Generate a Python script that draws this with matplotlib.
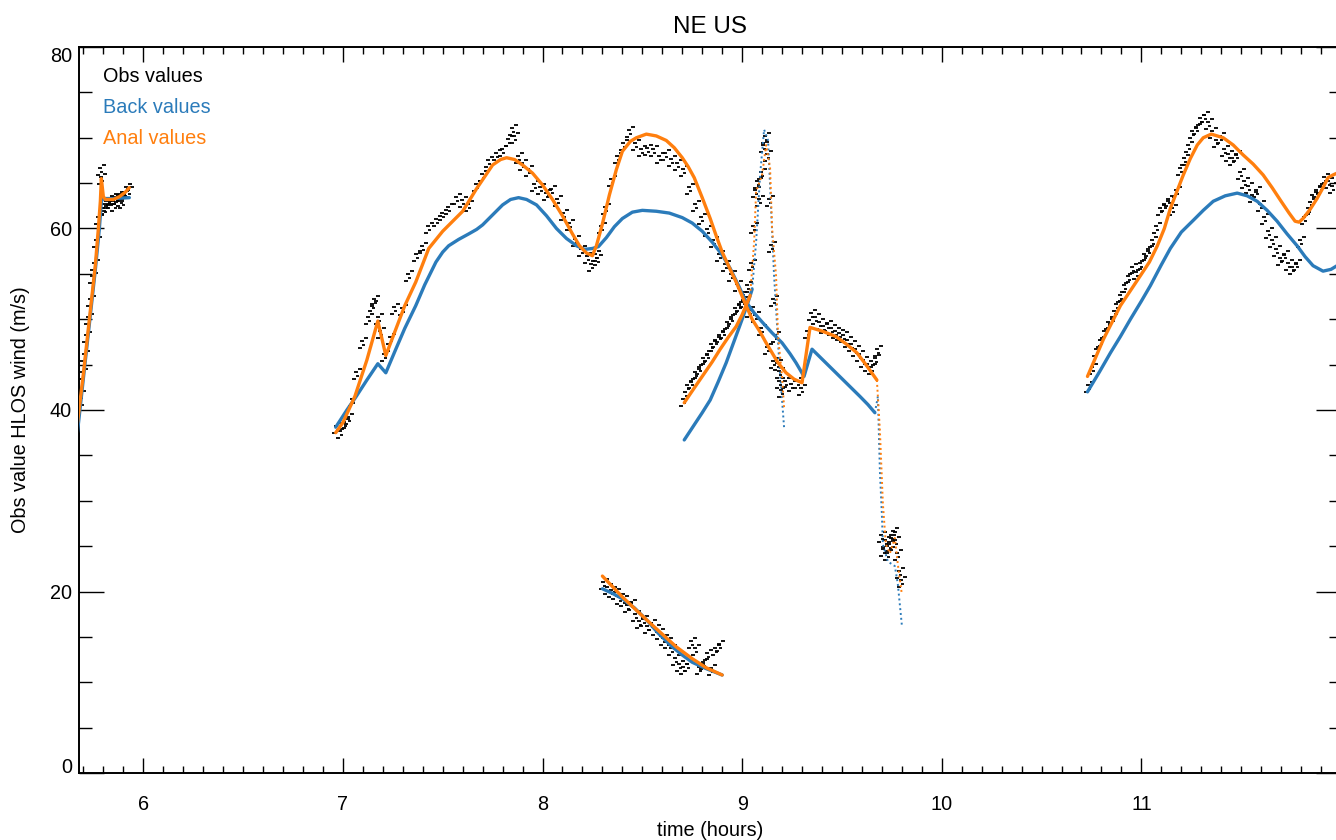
import matplotlib.pyplot as plt
from matplotlib.path import Path
import numpy as np

plt.rcParams['font.family'] = ['Liberation Sans', 'DejaVu Sans']

BLUE = '#2b7bba'
ORANGE = '#ff7f0e'

obs_t_a = [5.68, 5.69, 5.70, 5.71, 5.72, 5.73, 5.74, 5.75, 5.76, 5.77, 5.78,
           5.79, 5.795, 5.80, 5.81, 5.82, 5.83, 5.84, 5.85, 5.86, 5.87, 5.88,
           5.89, 5.90, 5.91, 5.92, 5.93]
obs_v_a = [40.0, 41.5, 44.0, 46.0, 48.0, 50.0, 52.0, 54.5, 56.0, 58.5, 61.0,
           66.5, 65.5, 62.5, 62.0, 62.5, 63.0, 62.8, 63.3, 62.5, 63.2, 63.5,
           63.0, 62.8, 63.8, 64.3, 64.0]

obs_t_b = [6.97, 6.99, 7.01, 7.03, 7.05, 7.07, 7.10, 7.13, 7.15, 7.16, 7.18,
           7.19, 7.21, 7.24, 7.26, 7.30, 7.33, 7.37, 7.40, 7.43, 7.47, 7.50,
           7.53, 7.57, 7.60, 7.63, 7.67, 7.70, 7.73, 7.77, 7.80, 7.83, 7.85,
           7.86, 7.88, 7.90, 7.93, 7.96, 7.99, 8.02, 8.05, 8.08, 8.11, 8.14,
           8.17, 8.20, 8.23, 8.25, 8.27, 8.28, 8.30, 8.32, 8.35, 8.38, 8.41,
           8.44, 8.47, 8.50, 8.53, 8.56, 8.59, 8.62, 8.65, 8.68, 8.71, 8.74,
           8.77, 8.80, 8.83, 8.86, 8.89, 8.92, 8.95, 8.98, 9.01, 9.04, 9.07,
           9.10, 9.13, 9.16, 9.19, 9.22, 9.25, 9.28, 9.30]
obs_v_b = [38.0, 37.5, 38.5, 39.0, 41.0, 44.0, 47.4, 50.0, 51.5, 52.0, 50.0,
           48.5, 46.0, 47.8, 51.1, 51.0, 54.8, 57.0, 57.8, 60.0, 60.8, 61.5,
           62.2, 63.3, 62.9, 62.5, 64.7, 65.8, 67.3, 68.1, 68.5, 69.6, 70.9,
           70.0, 67.8, 67.0, 66.3, 64.7, 64.4, 63.7, 64.1, 63.0, 61.5, 60.4,
           58.6, 57.5, 56.7, 55.9, 57.0, 56.5, 60.0, 62.2, 65.2, 67.8, 69.2,
           70.6, 69.2, 68.5, 68.7, 68.5, 67.8, 68.1, 67.4, 67.0, 66.3, 64.4,
           62.5, 61.1, 59.7, 58.5, 57.0, 55.9, 54.8, 53.7, 51.9, 50.8, 50.3,
           48.8, 46.7, 45.2, 44.1, 43.0, 42.6, 43.0, 42.2]

obs_t_c = [8.71, 8.73, 8.75, 8.77, 8.79, 8.81, 8.83, 8.85, 8.87, 8.89, 8.91,
           8.93, 8.95, 8.97, 8.99, 9.01, 9.03, 9.05, 9.06, 9.07, 9.08, 9.09,
           9.10, 9.11, 9.12, 9.13, 9.14, 9.15, 9.16, 9.17, 9.18, 9.19, 9.20]
obs_v_c = [41.0, 42.5, 43.0, 44.0, 44.5, 45.5, 46.0, 47.0, 47.5, 48.0, 48.5,
           49.5, 50.0, 51.0, 51.5, 52.5, 53.5, 56.0, 60.0, 64.0, 65.0, 63.0,
           66.0, 69.0, 70.0, 68.0, 63.0, 58.0, 52.0, 48.0, 45.0, 43.0, 42.0]

obs_t_d = [8.31, 8.33, 8.35, 8.37, 8.39, 8.41, 8.43, 8.45, 8.47, 8.49, 8.51,
           8.53, 8.55, 8.57, 8.59, 8.61, 8.63, 8.65, 8.67, 8.69, 8.71, 8.73,
           8.75, 8.77, 8.79, 8.81, 8.83, 8.85, 8.87, 8.89]
obs_v_d = [20.8, 20.3, 20.0, 19.7, 19.2, 19.0, 18.3, 18.5, 17.3, 16.5, 16.8,
           16.0, 16.3, 15.8, 15.3, 14.7, 14.3, 13.5, 12.5, 11.8, 11.5, 11.8,
           14.3, 13.5, 11.5, 12.0, 13.0, 11.3, 13.5, 14.0]

obs_t_f = [9.33, 9.35, 9.37, 9.39, 9.41, 9.43, 9.45, 9.47, 9.49, 9.51, 9.53,
           9.55, 9.57, 9.59, 9.61, 9.63, 9.65, 9.67, 9.68, 9.70, 9.71, 9.72,
           9.73, 9.74, 9.75, 9.76, 9.77, 9.78, 9.79, 9.80]
obs_v_f = [48.5, 50.5, 50.0, 49.5, 49.0, 49.3, 48.8, 48.5, 48.3, 48.0, 47.5,
           47.0, 46.5, 46.0, 45.3, 44.8, 44.5, 45.5, 46.5, 26.0, 24.5, 25.5,
           24.0, 25.0, 26.0, 26.5, 25.5, 24.0, 22.0, 21.0]

obs_t_e = [10.74, 10.76, 10.78, 10.80, 10.82, 10.84, 10.86, 10.88, 10.90,
           10.92, 10.94, 10.96, 10.98, 11.00, 11.02, 11.04, 11.06, 11.08,
           11.10, 11.12, 11.14, 11.16, 11.18, 11.20, 11.22, 11.24, 11.26,
           11.28, 11.30, 11.32, 11.34, 11.36, 11.38, 11.40, 11.42, 11.44,
           11.46, 11.48, 11.50, 11.52, 11.54, 11.56, 11.58, 11.60, 11.62,
           11.64, 11.66, 11.68, 11.70, 11.72, 11.74, 11.76, 11.78, 11.80,
           11.82, 11.84, 11.86, 11.88, 11.90, 11.92, 11.94, 11.96]
obs_v_e = [42.5, 44.5, 46.5, 47.5, 48.5, 49.5, 50.0, 51.5, 52.5, 53.5, 54.5,
           55.5, 55.0, 56.0, 57.0, 57.5, 58.5, 60.0, 62.0, 62.5, 63.0, 62.0,
           64.0, 66.5, 67.5, 69.0, 70.5, 71.0, 72.0, 72.3, 71.5, 70.5, 69.5,
           70.0, 68.5, 68.0, 67.5, 68.0, 66.0, 65.0, 64.5, 63.5, 64.0, 62.5,
           61.0, 59.5, 58.5, 57.5, 56.5, 57.0, 56.0, 55.5, 56.0, 58.5, 61.0,
           62.0, 63.5, 64.0, 64.5, 65.5, 65.0, 64.5]

# ---- background (Back) values ----
back_t_a = [5.67, 5.70, 5.73, 5.76, 5.78, 5.79, 5.80, 5.85, 5.93]
back_v_a = [37.5, 43.5, 49.5, 55.5, 60.0, 63.0, 63.3, 63.3, 63.4]

back_t_b = [6.964, 7.02, 7.064, 7.12, 7.175, 7.215, 7.265, 7.31, 7.365, 7.41,
            7.466, 7.50, 7.53, 7.58, 7.63, 7.67, 7.70, 7.75, 7.80, 7.84, 7.88,
            7.92, 7.97, 8.02, 8.07, 8.12, 8.17, 8.21, 8.25, 8.28, 8.32, 8.36,
            8.40, 8.45, 8.50, 8.57, 8.635, 8.70, 8.75, 8.80, 8.85, 8.90, 8.94,
            8.98, 9.02, 9.06, 9.10, 9.15, 9.20, 9.24, 9.27, 9.31, 9.35, 9.41,
            9.47, 9.53, 9.59, 9.63, 9.665]
back_v_b = [38.1, 40.0, 41.4, 43.3, 45.1, 44.1, 46.7, 49.0, 51.5, 53.8,
            56.3, 57.4, 58.1, 58.8, 59.4, 59.9, 60.4, 61.5, 62.6, 63.2, 63.4,
            63.2, 62.6, 61.4, 60.0, 58.9, 58.1, 57.7, 57.8, 58.0, 59.0, 60.2,
            61.1, 61.8, 62.0, 61.9, 61.7, 61.2, 60.6, 59.7, 58.5, 57.1, 55.6,
            53.8, 51.9, 50.7, 49.7, 48.5, 47.4, 46.2, 45.2, 43.7, 46.7, 45.4,
            44.1, 42.8, 41.5, 40.6, 39.7]
back_t_b_tail = [9.665, 9.68, 9.69, 9.70, 9.705, 9.73, 9.765, 9.78, 9.80]
back_v_b_tail = [39.7, 41.5, 33.3, 28.5, 25.2, 23.3, 22.8, 20.8, 16.3]

back_t_c = [8.71, 8.74, 8.77, 8.80, 8.84, 8.88, 8.92, 8.96, 9.00, 9.03, 9.05]
back_v_c = [36.7, 37.7, 38.7, 39.7, 41.1, 43.1, 45.2, 47.6, 50.0, 51.9, 53.3]
back_t_c_spike = [9.05, 9.07, 9.09, 9.11, 9.13, 9.145, 9.16, 9.185, 9.21]
back_v_c_spike = [53.3, 58.5, 65.9, 70.9, 69.7, 62.2, 54.8, 45.6, 38.1]

back_t_d = [8.30, 8.35, 8.40, 8.46, 8.52, 8.58, 8.65, 8.70, 8.75, 8.82, 8.90]
back_v_d = [20.3, 19.8, 19.2, 18.2, 16.9, 15.4, 13.9, 13.0, 12.2, 11.5, 10.8]

back_t_e = [10.73, 10.79, 10.845, 10.895, 10.945, 11.0, 11.045, 11.10, 11.145,
            11.20, 11.26, 11.31, 11.36, 11.42, 11.48, 11.53, 11.58, 11.63,
            11.68, 11.73, 11.78, 11.82, 11.86, 11.91, 11.95, 11.98]
back_v_e = [42.0, 44.2, 46.3, 48.1, 50.0, 52.0, 53.7, 56.0, 57.8, 59.6,
            60.9, 62.0, 63.0, 63.6, 63.9, 63.6, 63.0, 62.0, 60.8, 59.4,
            58.1, 56.9, 55.9, 55.3, 55.5, 55.9]

# ---- analysis (Anal) values ----
anal_t_a = [5.67, 5.70, 5.73, 5.76, 5.775, 5.785, 5.79, 5.80, 5.81, 5.85,
            5.88, 5.91, 5.93]
anal_v_a = [38.5, 44.0, 50.0, 56.0, 60.0, 63.0, 65.5, 63.5, 63.2, 63.2,
            63.5, 64.0, 64.5]

anal_t_b = [6.964, 7.00, 7.06, 7.12, 7.175, 7.215, 7.265, 7.31, 7.365, 7.43,
            7.50, 7.55, 7.60, 7.67, 7.75, 7.79, 7.82, 7.86, 7.90, 7.95, 8.00,
            8.05, 8.10, 8.15, 8.185, 8.22, 8.25, 8.27, 8.30, 8.335, 8.37, 8.40,
            8.44, 8.47, 8.52, 8.57, 8.62, 8.66, 8.70, 8.73, 8.76, 8.80, 8.84,
            8.87, 8.90, 8.94, 8.97, 9.02, 9.05, 9.09, 9.12, 9.15, 9.18, 9.22,
            9.26, 9.30, 9.34, 9.40, 9.47, 9.52, 9.575, 9.62, 9.675]
anal_v_b = [37.5, 38.6, 41.5, 45.5, 49.8, 46.0, 48.9, 51.5, 54.1, 57.8,
            59.7, 60.8, 61.9, 64.4, 67.0, 67.6, 67.8, 67.6, 67.0, 66.1, 64.8,
            63.2, 61.4, 59.4, 58.1, 57.3, 57.0, 58.1, 60.5, 63.7, 66.5, 68.5,
            69.6, 70.0, 70.4, 70.2, 69.7, 68.9, 67.8, 66.8, 65.6, 63.4, 61.1,
            59.2, 57.4, 55.5, 54.1, 51.5, 50.0, 48.6, 47.4, 46.3, 45.2, 44.1,
            43.4, 43.0, 49.1, 48.7, 48.1, 47.3, 46.3, 45.0, 43.3]
anal_t_b_tail = [9.675, 9.69, 9.705, 9.72, 9.74, 9.765, 9.78, 9.80]
anal_v_b_tail = [43.3, 37.8, 29.7, 25.2, 24.2, 25.9, 23.0, 19.7]

anal_t_c = [8.71, 8.75, 8.80, 8.85, 8.89, 8.93, 8.97, 9.00, 9.04]
anal_v_c = [40.8, 42.1, 43.7, 45.3, 46.7, 48.0, 49.2, 50.5, 52.6]
anal_t_c_spike = [9.04, 9.06, 9.07, 9.10, 9.12, 9.14, 9.15, 9.17, 9.18,
                  9.20, 9.21]
anal_v_c_spike = [52.6, 58.5, 64.1, 65.9, 69.2, 66.7, 60.0, 54.8, 48.1,
                  43.7, 40.3]

anal_t_d = [8.30, 8.40, 8.52, 8.60, 8.67, 8.75, 8.82, 8.90]
anal_v_d = [21.7, 19.4, 16.9, 15.3, 13.9, 12.6, 11.6, 10.8]

anal_t_e = [10.73, 10.81, 10.895, 10.995, 11.04, 11.08, 11.115, 11.145, 11.18,
            11.21, 11.245, 11.28, 11.31, 11.35, 11.41, 11.46, 11.51, 11.56,
            11.61, 11.655, 11.70, 11.74, 11.77, 11.79, 11.81, 11.845, 11.88,
            11.91, 11.935, 11.96, 11.98]
anal_v_e = [43.7, 47.8, 51.5, 54.8, 56.3, 58.1, 60.0, 62.2, 64.2, 65.9,
            67.7, 69.2, 70.0, 70.4, 70.0, 69.2, 68.1, 67.1, 65.9, 64.5,
            63.0, 61.7, 60.8, 60.7, 61.1, 62.1, 63.3, 64.5, 65.6, 65.9, 66.1]

legend_labels = ['Obs values', 'Back values', 'Anal values']

W, H = 1336, 840
fig = plt.figure(figsize=(W / 100, H / 100), dpi=100)
ax = fig.add_axes([79 / W, (H - 773) / H, (1341 - 79) / W, (773 - 47) / H])

# obs drawn as small clusters of short dashes, like the dense IDL dot cloud
cloud = Path([(-1.0, -1.0), (-0.2, -1.0), (-0.3, -0.35), (0.5, -0.35),
              (-0.6, 0.35), (0.2, 0.35), (0.2, 1.0), (1.0, 1.0)],
             [Path.MOVETO, Path.LINETO] * 4)
obs_sets = [(obs_t_a, obs_v_a), (obs_t_b, obs_v_b), (obs_t_c, obs_v_c),
            (obs_t_d, obs_v_d), (obs_t_f, obs_v_f), (obs_t_e, obs_v_e)]
for t, v in obs_sets:
    ax.plot(t, v, linestyle='none', marker=cloud, ms=7, mew=1.3,
            color='black', zorder=2)

solid = {
    BLUE: [(back_t_a, back_v_a), (back_t_b, back_v_b), (back_t_c, back_v_c),
           (back_t_d, back_v_d), (back_t_e, back_v_e)],
    ORANGE: [(anal_t_a, anal_v_a), (anal_t_b, anal_v_b), (anal_t_c, anal_v_c),
             (anal_t_d, anal_v_d), (anal_t_e, anal_v_e)],
}
dotted = {
    BLUE: [(back_t_b_tail, back_v_b_tail), (back_t_c_spike, back_v_c_spike)],
    ORANGE: [(anal_t_b_tail, anal_v_b_tail), (anal_t_c_spike, anal_v_c_spike)],
}
for z, col in [(3, BLUE), (4, ORANGE)]:
    for t, v in solid[col]:
        ax.plot(t, v, color=col, lw=2.4, solid_capstyle='round',
                solid_joinstyle='round', zorder=z)
    for t, v in dotted[col]:
        ax.plot(t, v, color=col, lw=1.4, linestyle=(0, (1, 1.5)), zorder=z)

ax.set_xlim(5.678, 12.0)
ax.set_ylim(0, 80)
ax.set_xticks(np.arange(6, 12, 1))
ax.set_xticks(np.arange(5.7, 12.0, 0.1), minor=True)
ax.set_yticks(np.arange(0, 81, 20))
ax.set_yticks(np.arange(0, 81, 5), minor=True)

ax.tick_params(axis='both', which='both', direction='in', top=True,
               right=True, width=1.0, colors='black', labelsize=14.3)
ax.tick_params(axis='x', which='major', length=10.8, pad=16)
ax.tick_params(axis='x', which='minor', length=5.2)
ax.tick_params(axis='y', which='major', length=18, pad=5)
ax.tick_params(axis='y', which='minor', length=9)
for s in ax.spines.values():
    s.set_linewidth(1.4)

ylabs = ax.get_yticklabels()
ylabs[0].set_va('baseline')
ylabs[-1].set_va('top')

ax.set_title('NE US', fontsize=17.5, pad=10)
ax.set_xlabel('time (hours)', fontsize=14.3, labelpad=5)
ax.set_ylabel('Obs value HLOS wind (m/s)', fontsize=14.3, labelpad=14)

for i, (lab, col) in enumerate(zip(legend_labels, ['black', BLUE, ORANGE])):
    fig.text(103 / W, 1 - (77 + 30.5 * i) / H, lab, color=col, fontsize=14.3,
             ha='left', va='center')

fig.savefig('out.png', dpi=100)
